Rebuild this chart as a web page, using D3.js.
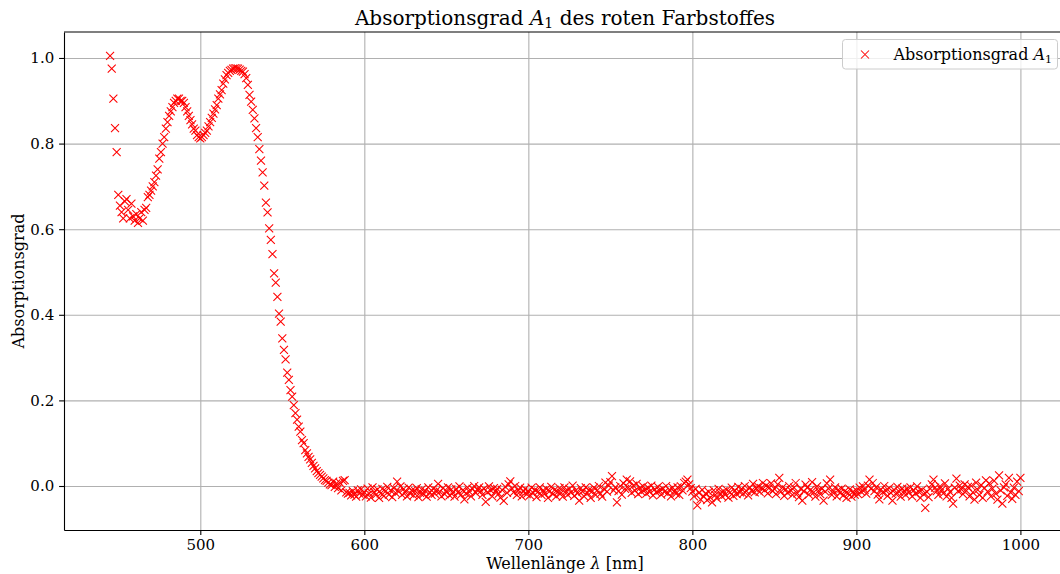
<!DOCTYPE html>
<html>
<head>
<meta charset="utf-8">
<script src="https://cdn.jsdelivr.net/npm/d3@7"></script>
<style>
  body { margin: 0; background: #fff; }
  svg text { font-family: "DejaVu Serif", serif; fill: #000; }
</style>
</head>
<body>
<div id="chart"></div>
<script>
// Wellenlaenge in nm
var wavelength = [
  445, 446, 447, 448, 449,
  450, 451, 452, 453, 454, 455, 456, 457, 458, 459,
  460, 461, 462, 463, 464, 465, 466, 467, 468, 469,
  470, 471, 472, 473, 474, 475, 476, 477, 478, 479,
  480, 481, 482, 483, 484, 485, 486, 487, 488, 489,
  490, 491, 492, 493, 494, 495, 496, 497, 498, 499,
  500, 501, 502, 503, 504, 505, 506, 507, 508, 509,
  510, 511, 512, 513, 514, 515, 516, 517, 518, 519,
  520, 521, 522, 523, 524, 525, 526, 527, 528, 529,
  530, 531, 532, 533, 534, 535, 536, 537, 538, 539,
  540, 541, 542, 543, 544, 545, 546, 547, 548, 549,
  550, 551, 552, 553, 554, 555, 556, 557, 558, 559,
  560, 561, 562, 563, 564, 565, 566, 567, 568, 569,
  570, 571, 572, 573, 574, 575, 576, 577, 578, 579,
  580, 581, 582, 583, 584, 585, 586, 587, 588, 589,
  590, 591, 592, 593, 594, 595, 596, 597, 598, 599,
  600, 601, 602, 603, 604, 605, 606, 607, 608, 609,
  610, 611, 612, 613, 614, 615, 616, 617, 618, 619,
  620, 621, 622, 623, 624, 625, 626, 627, 628, 629,
  630, 631, 632, 633, 634, 635, 636, 637, 638, 639,
  640, 641, 642, 643, 644, 645, 646, 647, 648, 649,
  650, 651, 652, 653, 654, 655, 656, 657, 658, 659,
  660, 661, 662, 663, 664, 665, 666, 667, 668, 669,
  670, 671, 672, 673, 674, 675, 676, 677, 678, 679,
  680, 681, 682, 683, 684, 685, 686, 687, 688, 689,
  690, 691, 692, 693, 694, 695, 696, 697, 698, 699,
  700, 701, 702, 703, 704, 705, 706, 707, 708, 709,
  710, 711, 712, 713, 714, 715, 716, 717, 718, 719,
  720, 721, 722, 723, 724, 725, 726, 727, 728, 729,
  730, 731, 732, 733, 734, 735, 736, 737, 738, 739,
  740, 741, 742, 743, 744, 745, 746, 747, 748, 749,
  750, 751, 752, 753, 754, 755, 756, 757, 758, 759,
  760, 761, 762, 763, 764, 765, 766, 767, 768, 769,
  770, 771, 772, 773, 774, 775, 776, 777, 778, 779,
  780, 781, 782, 783, 784, 785, 786, 787, 788, 789,
  790, 791, 792, 793, 794, 795, 796, 797, 798, 799,
  800, 801, 802, 803, 804, 805, 806, 807, 808, 809,
  810, 811, 812, 813, 814, 815, 816, 817, 818, 819,
  820, 821, 822, 823, 824, 825, 826, 827, 828, 829,
  830, 831, 832, 833, 834, 835, 836, 837, 838, 839,
  840, 841, 842, 843, 844, 845, 846, 847, 848, 849,
  850, 851, 852, 853, 854, 855, 856, 857, 858, 859,
  860, 861, 862, 863, 864, 865, 866, 867, 868, 869,
  870, 871, 872, 873, 874, 875, 876, 877, 878, 879,
  880, 881, 882, 883, 884, 885, 886, 887, 888, 889,
  890, 891, 892, 893, 894, 895, 896, 897, 898, 899,
  900, 901, 902, 903, 904, 905, 906, 907, 908, 909,
  910, 911, 912, 913, 914, 915, 916, 917, 918, 919,
  920, 921, 922, 923, 924, 925, 926, 927, 928, 929,
  930, 931, 932, 933, 934, 935, 936, 937, 938, 939,
  940, 941, 942, 943, 944, 945, 946, 947, 948, 949,
  950, 951, 952, 953, 954, 955, 956, 957, 958, 959,
  960, 961, 962, 963, 964, 965, 966, 967, 968, 969,
  970, 971, 972, 973, 974, 975, 976, 977, 978, 979,
  980, 981, 982, 983, 984, 985, 986, 987, 988, 989,
  990, 991, 992, 993, 994, 995, 996, 997, 998, 999,
  1000
];

// Absorptionsgrad A1
var absorption = [
  1.005, 0.975, 0.905, 0.836, 0.78,
  0.68, 0.655, 0.64, 0.625, 0.665, 0.67, 0.645, 0.625, 0.66, 0.63,
  0.62, 0.635, 0.615, 0.625, 0.64, 0.62, 0.645, 0.65, 0.675, 0.68,
  0.69, 0.70, 0.71, 0.725, 0.74, 0.765, 0.78, 0.80, 0.815, 0.835,
  0.85, 0.865, 0.875, 0.885, 0.895, 0.90, 0.905, 0.905, 0.90, 0.90,
  0.895, 0.885, 0.875, 0.865, 0.855, 0.845, 0.835, 0.83, 0.82, 0.815,
  0.812, 0.815, 0.82, 0.825, 0.83, 0.84, 0.85, 0.86, 0.87, 0.88,
  0.89, 0.905, 0.915, 0.925, 0.94, 0.95, 0.96, 0.965, 0.97, 0.972,
  0.975, 0.976, 0.976, 0.975, 0.973, 0.97, 0.968, 0.962, 0.953, 0.937,
  0.914, 0.898, 0.879, 0.859, 0.836, 0.815, 0.787, 0.76, 0.733, 0.702,
  0.662, 0.639, 0.602, 0.575, 0.542, 0.497, 0.475, 0.442, 0.403, 0.384,
  0.345, 0.318, 0.296, 0.265, 0.248, 0.224, 0.209, 0.189, 0.17, 0.155,
  0.139, 0.127, 0.107, 0.1, 0.084, 0.076, 0.068, 0.062, 0.054, 0.047,
  0.041, 0.035, 0.03, 0.026, 0.022, 0.018, 0.014, 0.012, 0.008, 0.004,
  0.002, 0.01, -0.002, 0.006, -0.005, 0.008, -0.01, 0.012, 0.014, -0.015,
  -0.018, -0.016, -0.022, -0.012, -0.02, -0.025, -0.01, -0.018, -0.008, -0.02,
  -0.015, -0.024, -0.006, -0.018, -0.027, -0.003, -0.014, -0.021, -0.008, -0.028,
  -0.017, -0.007, -0.023, -0.012, -0.002, -0.020, -0.010, -0.026, -0.005, -0.016,
  0.010, -0.013, -0.001, -0.021, -0.007, -0.015, -0.024, -0.004, -0.018, -0.010,
  -0.022, -0.012, -0.005, -0.026, -0.016, -0.008, -0.019, -0.011, -0.025, -0.003,
  -0.015, -0.021, -0.006, -0.018, -0.010, 0.005, -0.013, -0.024, -0.005, -0.019,
  -0.012, -0.003, -0.022, -0.008, -0.016, -0.025, -0.007, -0.015, -0.001, -0.020,
  -0.010, -0.031, -0.017, -0.004, -0.013, -0.024, -0.007, 0.000, -0.016, -0.009,
  -0.003, -0.012, -0.021, -0.006, -0.037, -0.015, -0.001, -0.010, -0.024, -0.005,
  -0.013, -0.007, -0.018, -0.027, -0.009, -0.035, -0.002, -0.016, 0.004, 0.011,
  -0.006, -0.015, 0.000, -0.021, -0.011, -0.004, -0.024, -0.013, -0.007, -0.019,
  -0.012, -0.022, -0.004, -0.016, -0.009, -0.026, -0.013, -0.003, -0.021, -0.010,
  -0.018, -0.007, -0.028, -0.012, -0.002, -0.019, -0.009, -0.024, -0.014, -0.005,
  -0.016, -0.025, -0.003, -0.012, -0.021, -0.007, -0.015, 0.001, -0.023, -0.010,
  -0.017, -0.034, -0.005, -0.013, -0.024, -0.003, -0.016, -0.009, -0.028, -0.012,
  -0.004, -0.021, -0.010, 0.000, -0.018, -0.025, -0.007, 0.008, -0.013, 0.001,
  0.009, 0.023, -0.010, -0.003, -0.038, -0.012, 0.000, -0.020, 0.006, -0.007,
  0.015, -0.004, 0.011, -0.016, 0.001, -0.011, 0.005, -0.019, -0.005, -0.014,
  -0.001, -0.009, -0.018, -0.004, -0.013, 0.001, -0.022, -0.008, -0.015, -0.002,
  -0.011, -0.020, -0.006, -0.014, 0.000, -0.017, -0.009, -0.024, -0.004, -0.012,
  -0.018, -0.003, -0.021, -0.001, -0.010, 0.007, 0.010, 0.015, 0.004, -0.005,
  -0.013, -0.024, -0.007, -0.045, -0.016, -0.031, -0.009, -0.025, -0.018, -0.033,
  -0.014, -0.027, -0.038, -0.010, -0.021, -0.029, -0.007, -0.017, -0.024, -0.012,
  -0.020, -0.009, -0.027, -0.015, -0.004, -0.023, -0.011, -0.019, -0.002, -0.015,
  -0.007, -0.018, 0.000, -0.012, -0.022, -0.004, -0.011, 0.005, -0.015, -0.006,
  -0.001, -0.014, -0.005, 0.007, -0.010, 0.001, -0.017, -0.004, 0.006, -0.012,
  -0.007, -0.019, 0.004, 0.019, -0.013, -0.003, -0.023, -0.008, -0.016, 0.000,
  -0.010, -0.021, -0.004, 0.007, -0.017, -0.026, -0.007, -0.034, -0.012, 0.003,
  -0.004, -0.020, -0.009, 0.009, -0.015, -0.025, -0.001, -0.011, -0.019, -0.007,
  -0.034, -0.013, 0.006, -0.006, 0.015, -0.021, -0.012, -0.003, -0.024, -0.009,
  -0.016, -0.006, -0.022, -0.012, -0.028, -0.017, -0.008, -0.025, -0.013, -0.020,
  -0.010, -0.019, -0.004, -0.014, -0.001, -0.009, -0.018, 0.001, 0.015, -0.006,
  0.007, -0.012, -0.003, -0.020, -0.031, -0.008, -0.015, 0.000, -0.011, -0.023,
  -0.005, -0.016, -0.034, -0.009, -0.018, -0.002, -0.013, -0.025, -0.006, -0.012,
  -0.021, -0.007, -0.015, -0.003, -0.024, -0.010, -0.018, -0.001, -0.013, -0.028,
  -0.009, -0.019, -0.051, -0.014, -0.026, -0.006, 0.004, 0.015, -0.004, -0.012,
  -0.021, -0.001, -0.009, -0.017, 0.006, -0.024, -0.006, -0.014, -0.028, -0.041,
  -0.004, 0.017, -0.012, 0.001, -0.008, -0.019, 0.004, -0.011, -0.002, -0.024,
  0.000, -0.015, -0.032, 0.008, -0.009, -0.021, 0.002, -0.028, -0.005, 0.013,
  -0.013, 0.006, -0.024, -0.006, 0.012, -0.018, -0.032, 0.025, -0.010, -0.041,
  -0.003, 0.004, -0.023, 0.019, -0.015, -0.030, -0.004, -0.021, 0.010, -0.012,
  0.019
];

var xTicks = [500, 600, 700, 800, 900, 1000];
var yTicks = [0.0, 0.2, 0.4, 0.6, 0.8, 1.0];

var width = 1060, height = 574;
var margin = {top: 32, right: -6, bottom: 44, left: 64};
var plotW = width - margin.left - margin.right;
var plotH = height - margin.top - margin.bottom;
var color = '#ff0000';

var svg = d3.select('#chart').append('svg')
    .attr('width', width)
    .attr('height', height);

var x = d3.scaleLinear()
    .domain([416.9, 1027.8])
    .range([0, plotW]);

var y = d3.scaleLinear()
    .domain([-0.1028, 1.0607])
    .range([plotH, 0]);

var g = svg.append('g')
    .attr('transform', 'translate(' + margin.left + ',' + margin.top + ')');

// gitter
g.append('g')
    .attr('class', 'grid')
    .attr('transform', 'translate(0,' + plotH + ')')
    .call(d3.axisBottom(x).tickValues(xTicks).tickSize(-plotH).tickFormat(''))
    .call(function(s){ s.select('.domain').remove(); });

g.append('g')
    .attr('class', 'grid')
    .call(d3.axisLeft(y).tickValues(yTicks).tickSize(-plotW).tickFormat(''))
    .call(function(s){ s.select('.domain').remove(); });

g.selectAll('.grid line')
    .attr('stroke', '#b0b0b0')
    .attr('stroke-width', 1.1);

// messpunkte
var data = wavelength.map(function(d, i){ return {x: d, y: absorption[i]}; });
var s = 4;
var cross = 'M' + (-s) + ',' + (-s) + 'L' + s + ',' + s + 'M' + (-s) + ',' + s + 'L' + s + ',' + (-s);

g.append('g')
    .selectAll('path')
    .data(data)
    .enter().append('path')
    .attr('d', cross)
    .attr('transform', function(d){ return 'translate(' + x(d.x) + ',' + y(d.y) + ')'; })
    .attr('fill', 'none')
    .attr('stroke', color)
    .attr('stroke-width', 1.05);

// achsen
var xAxis = g.append('g')
    .attr('transform', 'translate(0,' + plotH + ')')
    .call(d3.axisBottom(x).tickValues(xTicks).tickSizeInner(4.9).tickSizeOuter(0)
        .tickPadding(4.9).tickFormat(d3.format('d')));

var yAxis = g.append('g')
    .call(d3.axisLeft(y).tickValues(yTicks).tickSizeInner(4.9).tickSizeOuter(0)
        .tickPadding(4.9).tickFormat(d3.format('.1f')));

[xAxis, yAxis].forEach(function(a){
   a.attr('font-family', null).attr('font-size', null);
   a.selectAll('text').attr('font-size', 15).attr('fill', '#000');
   a.selectAll('line').attr('stroke', '#000').attr('stroke-width', 1.1);
   a.select('.domain').attr('stroke', '#000').attr('stroke-width', 1.1);
});

// rahmen oben / rechts
g.append('line')
    .attr('x1', 0).attr('x2', plotW).attr('y1', 0).attr('y2', 0)
    .attr('stroke', '#000').attr('stroke-width', 1.1);
g.append('line')
    .attr('x1', plotW).attr('x2', plotW).attr('y1', 0).attr('y2', plotH)
    .attr('stroke', '#000').attr('stroke-width', 1.1);

// titel
var title = svg.append('text')
    .attr('x', margin.left + plotW / 2)
    .attr('y', 25)
    .attr('text-anchor', 'middle')
    .attr('font-size', 20);
title.append('tspan').text('Absorptionsgrad ');
title.append('tspan').attr('font-style', 'italic').text('A');
title.append('tspan').attr('font-size', 14).attr('dy', 3).text('1');
title.append('tspan').attr('dy', -3).text(' des roten Farbstoffes');

// achsenbeschriftungen
var xLabel = svg.append('text')
    .attr('x', margin.left + plotW / 2)
    .attr('y', 569)
    .attr('text-anchor', 'middle')
    .attr('font-size', 16);
xLabel.append('tspan').text('Wellenlänge ');
xLabel.append('tspan').attr('font-style', 'italic').text('λ');
xLabel.append('tspan').text(' [nm]');

svg.append('text')
    .attr('transform', 'translate(24,' + (margin.top + plotH / 2) + ') rotate(-90)')
    .attr('text-anchor', 'middle')
    .attr('font-size', 16)
    .text('Absorptionsgrad');

// legende
var legend = svg.append('g')
    .attr('transform', 'translate(842.5,39.5)');

legend.append('rect')
    .attr('width', 215)
    .attr('height', 29.5)
    .attr('rx', 3)
    .attr('fill', '#fff')
    .attr('fill-opacity', 0.8)
    .attr('stroke', '#cccccc')
    .attr('stroke-width', 1);

legend.append('path')
    .attr('d', cross)
    .attr('transform', 'translate(22.5,15)')
    .attr('fill', 'none')
    .attr('stroke', color)
    .attr('stroke-width', 1.05);

var legText = legend.append('text')
    .attr('x', 51)
    .attr('y', 20.5)
    .attr('font-size', 16);
legText.append('tspan').text('Absorptionsgrad ');
legText.append('tspan').attr('font-style', 'italic').text('A');
legText.append('tspan').attr('font-size', 11).attr('dy', 2.5).text('1');
</script>
</body>
</html>
